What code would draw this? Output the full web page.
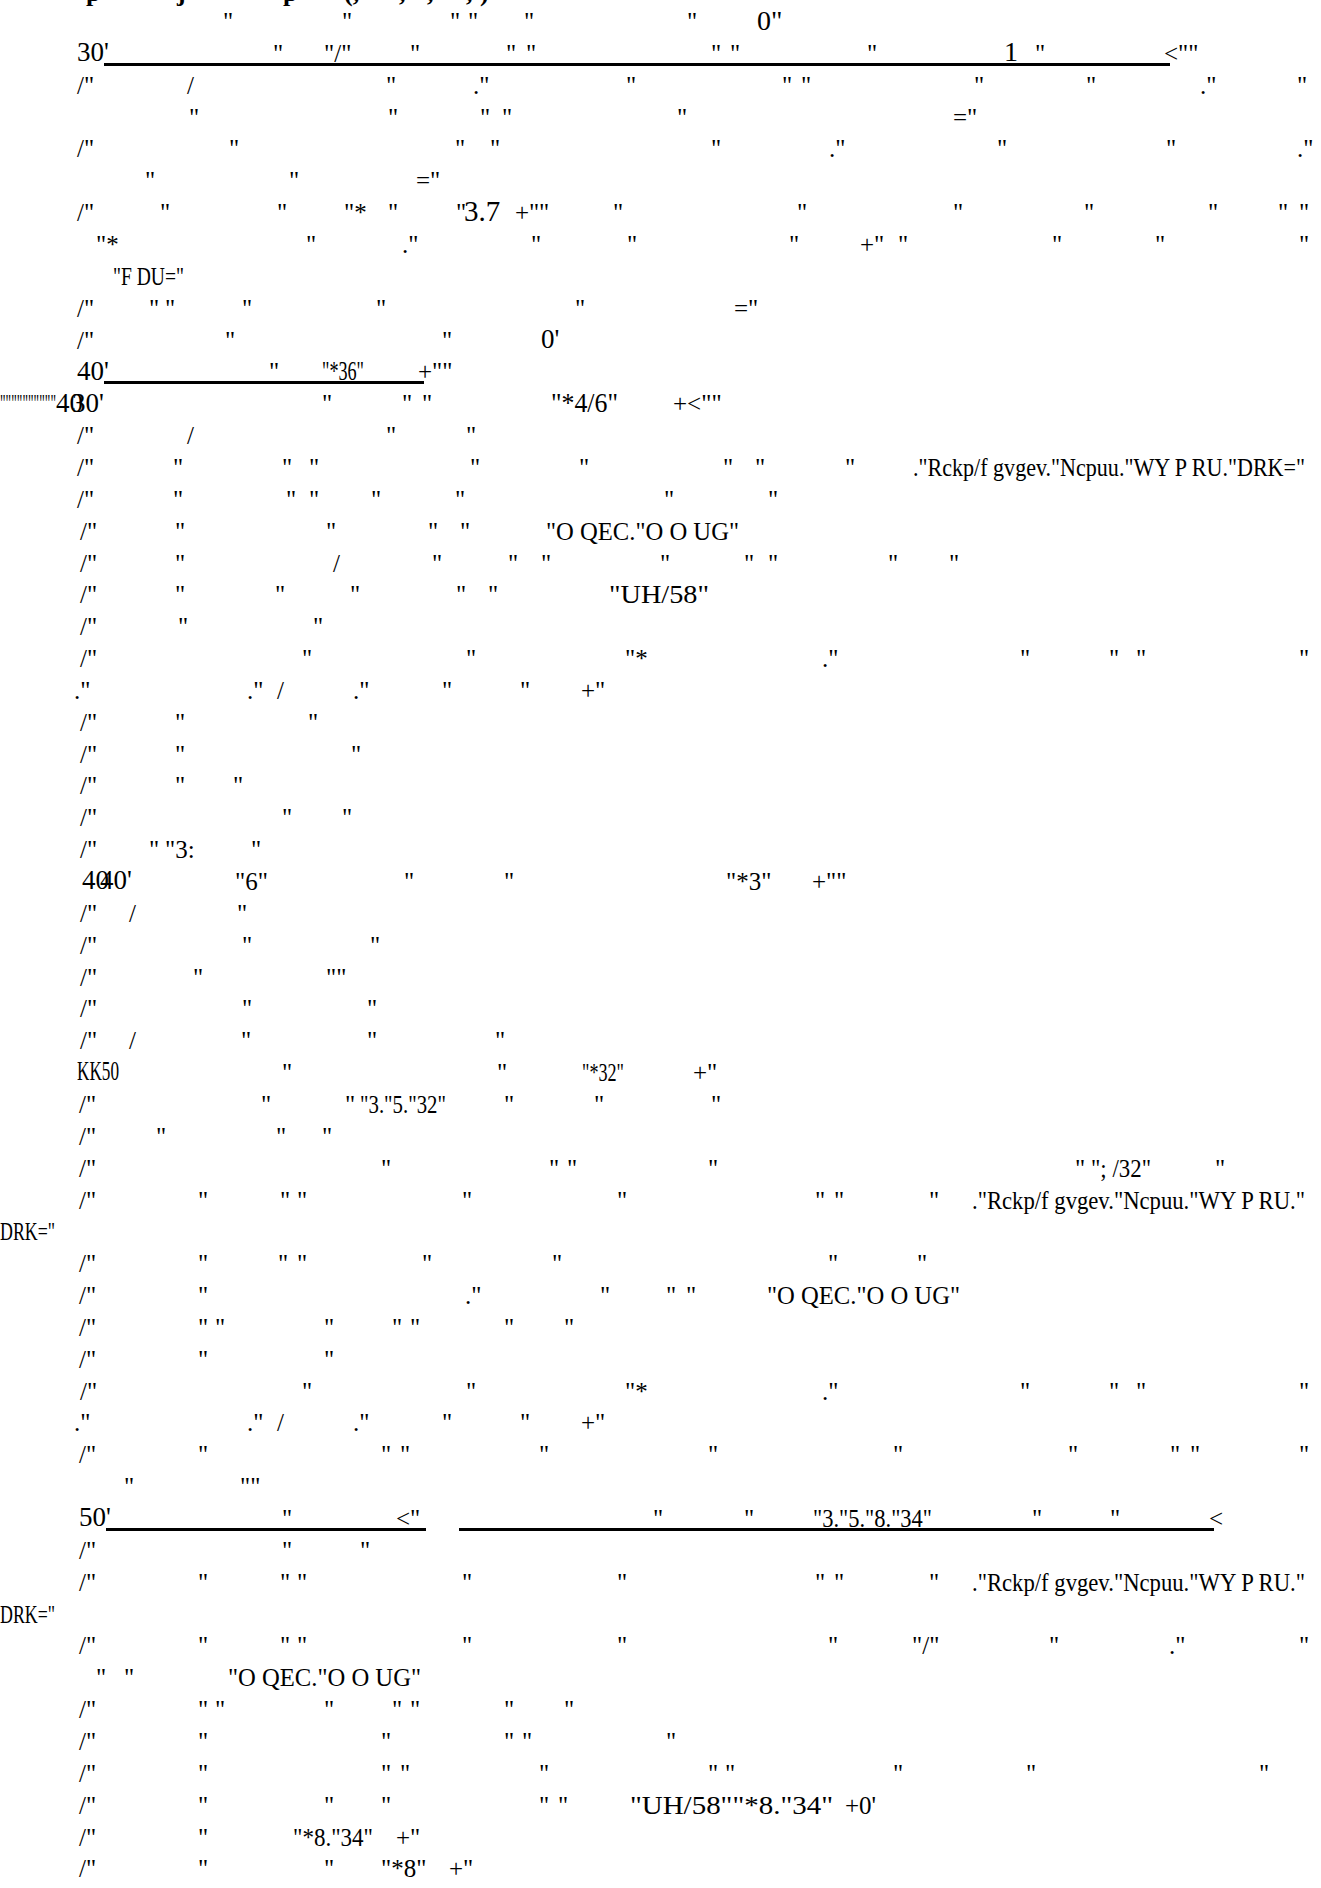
<!DOCTYPE html>
<html>
<head>
<meta charset="utf-8">
<script src="https://cdn.jsdelivr.net/npm/chart.js@4.4.1/dist/chart.umd.min.js"></script>
<style>
  html, body { margin: 0; padding: 0; background: #ffffff; }
  body { width: 1321px; height: 1888px; position: relative; overflow: hidden;
         font-family: "Liberation Serif", "Times New Roman", serif; color: #000; }
  .t { position: absolute; white-space: pre; line-height: 1; transform-origin: 0 0; }
  .b { font-weight: bold; }
  .rule { position: absolute; height: 3px; background: #000; }
</style>
</head>
<body>
<div id="page"></div>
<script>
// Text content of the page, one array per printed line: [x, text, options]
const Q = '"';
const headerLine = [[86,'p'],[177,'j'],[283,'p'],[344,'(,'],[399,','],[427,','],[466,','],[480,')']];
const block1 = [
  [[223,Q],[342,Q],[450,Q],[468,Q],[524,Q],[687,Q],[757,'0"',{s:28}]],
  [[77,"30'",{s:27}],[273,Q],[324,'"/"'],[410,Q],[506,Q],[526,Q],[711,Q],[730,Q],[867,Q],[1004,'1',{s:28}],[1035,Q],[1164,'<""']],
  [[77,'/"'],[187,'/'],[386,Q],[473,'."'],[626,Q],[782,Q],[801,Q],[974,Q],[1086,Q],[1200,'."'],[1297,Q]],
  [[189,Q],[388,Q],[480,Q],[502,Q],[677,Q],[953,'="']],
  [[77,'/"'],[229,Q],[455,Q],[490,Q],[711,Q],[829,'."'],[997,Q],[1166,Q],[1297,'."']],
  [[145,Q],[289,Q],[416,'="']],
  [[77,'/"'],[160,Q],[277,Q],[344,'"*'],[388,Q],[456,Q],[464,'3.7',{s:29}],[515,'+"'],[539,Q],[613,Q],[797,Q],[953,Q],[1084,Q],[1208,Q],[1278,Q],[1299,Q]],
  [[96,'"*'],[306,Q],[402,'."'],[531,Q],[627,Q],[789,Q],[860,'+"'],[898,Q],[1052,Q],[1155,Q],[1299,Q]],
  [[113,'"F DU="',{w:71}]],
  [[77,'/"'],[149,Q],[165,Q],[242,Q],[376,Q],[575,Q],[734,'="']],
  [[77,'/"'],[225,Q],[442,Q],[541,"0'",{s:27}]],
  [[77,"40'",{s:27}],[269,Q],[322,'"*36"',{w:42,s:27}],[418,'+""']],
  [[0,'""""""""""',{w:56}],[56,'40',{s:27}],[72,"30'",{s:27}],[322,Q],[402,Q],[422,Q],[551,'"*4/6"',{w:67,s:27}],[673,'+<""']],
  [[77,'/"'],[187,'/'],[386,Q],[466,Q]],
  [[77,'/"'],[173,Q],[282,Q],[309,Q],[470,Q],[579,Q],[723,Q],[755,Q],[845,Q],[913,'."Rckp/f gvgev."Ncpuu."WY P RU."DRK="',{w:392}]],
  [[77,'/"'],[173,Q],[286,Q],[309,Q],[371,Q],[455,Q],[664,Q],[768,Q]],
  [[80,'/"'],[175,Q],[326,Q],[428,Q],[460,Q],[546,'"O QEC."O O UG"',{w:193}]],
  [[80,'/"'],[175,Q],[333,'/'],[432,Q],[508,Q],[541,Q],[660,Q],[744,Q],[768,Q],[888,Q],[949,Q]],
  [[80,'/"'],[175,Q],[275,Q],[350,Q],[456,Q],[488,Q],[609,'"UH/58"',{w:100}]],
  [[80,'/"'],[178,Q],[313,Q]],
  [[80,'/"'],[302,Q],[466,Q],[625,'"*'],[822,'."'],[1020,Q],[1109,Q],[1136,Q],[1299,Q]],
  [[74,'."'],[247,'."'],[277,'/'],[353,'."'],[442,Q],[520,Q],[581,'+"']],
  [[80,'/"'],[175,Q],[308,Q]],
  [[80,'/"'],[175,Q],[351,Q]],
  [[80,'/"'],[175,Q],[233,Q]],
  [[80,'/"'],[282,Q],[342,Q]],
  [[80,'/"'],[149,Q],[165,'"3:'],[251,Q]],
  [[82,'40',{s:27}],[100,"40'",{s:27}],[235,'"6"'],[404,Q],[504,Q],[726,'"*3"'],[812,'+""']],
  [[80,'/"'],[129,'/'],[237,Q]],
  [[80,'/"'],[242,Q],[370,Q]],
  [[80,'/"'],[193,Q],[326,'""']],
  [[80,'/"'],[242,Q],[367,Q]],
  [[80,'/"'],[129,'/'],[241,Q],[367,Q],[495,Q]]
];
const block2 = [
  [[77,'KK50',{s:27,w:42}],[282,Q],[497,Q],[582,'"*32"',{w:42}],[693,'+"']],
  [[79,'/"'],[261,Q],[345,Q],[360,'"3."5."32"',{w:86}],[504,Q],[594,Q],[711,Q]],
  [[79,'/"'],[156,Q],[276,Q],[322,Q]],
  [[79,'/"'],[381,Q],[549,Q],[567,Q],[708,Q],[1075,Q],[1091,'"; /32"',{w:60}],[1215,Q]],
  [[79,'/"'],[198,Q],[280,Q],[297,Q],[462,Q],[617,Q],[815,Q],[834,Q],[929,Q],[972,'."Rckp/f gvgev."Ncpuu."WY P RU."',{w:333}]],
  [[0,'DRK="',{w:55}]],
  [[79,'/"'],[198,Q],[278,Q],[297,Q],[422,Q],[552,Q],[828,Q],[917,Q]],
  [[79,'/"'],[198,Q],[465,'."'],[600,Q],[666,Q],[686,Q],[767,'"O QEC."O O UG"',{w:193}]],
  [[79,'/"'],[198,Q],[215,Q],[324,Q],[392,Q],[410,Q],[504,Q],[564,Q]],
  [[79,'/"'],[198,Q],[324,Q]],
  [[80,'/"'],[302,Q],[466,Q],[625,'"*'],[822,'."'],[1020,Q],[1109,Q],[1136,Q],[1299,Q]],
  [[74,'."'],[247,'."'],[277,'/'],[353,'."'],[442,Q],[520,Q],[581,'+"']],
  [[79,'/"'],[198,Q],[381,Q],[400,Q],[539,Q],[708,Q],[893,Q],[1068,Q],[1170,Q],[1190,Q],[1299,Q]],
  [[124,Q],[240,'""']]
];
const block3 = [
  [[79,"50'",{s:27}],[282,Q],[396,'<"'],[653,Q],[744,Q],[813,'"3."5."8."34"',{w:119}],[1032,Q],[1110,Q],[1209,'<']],
  [[79,'/"'],[282,Q],[360,Q]],
  [[79,'/"'],[198,Q],[280,Q],[297,Q],[462,Q],[617,Q],[815,Q],[834,Q],[929,Q],[972,'."Rckp/f gvgev."Ncpuu."WY P RU."',{w:333}]],
  [[0,'DRK="',{w:55}]],
  [[79,'/"'],[198,Q],[280,Q],[297,Q],[462,Q],[617,Q],[828,Q],[912,'"/"'],[1049,Q],[1169,'."'],[1299,Q]],
  [[96,Q],[124,Q],[228,'"O QEC."O O UG"',{w:193}]],
  [[79,'/"'],[198,Q],[215,Q],[324,Q],[392,Q],[410,Q],[504,Q],[564,Q]],
  [[79,'/"'],[198,Q],[381,Q],[504,Q],[522,Q],[666,Q]],
  [[79,'/"'],[198,Q],[381,Q],[400,Q],[539,Q],[708,Q],[725,Q],[893,Q],[1026,Q],[1259,Q]],
  [[79,'/"'],[198,Q],[324,Q],[381,Q],[539,Q],[558,Q],[630,'"UH/58""*8."34"',{w:203}],[845,"+0'"]],
  [[79,'/"'],[198,Q],[293,'"*8."34"',{w:80}],[396,'+"']],
  [[79,'/"'],[198,Q],[324,Q],[381,'"*8"'],[449,'+"']]
];
// Horizontal rules: [line index, x from, x to]
const rules = [[1,104,1170],[11,104,424],[47,106,426],[47,459,1214]];

const FIRST_BASE = 30, STEP = 31.85, BASE_SIZE = 25;
const page = document.getElementById('page');
function put(x, base, text, opt, bold) {
  const s = (opt && opt.s) || (bold ? 26 : BASE_SIZE);
  const el = document.createElement('span');
  el.className = 't' + (bold ? ' b' : '');
  el.style.fontSize = s + 'px';
  el.textContent = text;
  el.style.left = x + 'px';
  el.style.top = (base - 0.8375 * s) + 'px';
  page.appendChild(el);
  if (opt && opt.w) {
    const w = el.getBoundingClientRect().width;
    if (w > 0) el.style.transform = 'scaleX(' + (opt.w / w) + ')';
  }
}
headerLine.forEach(([x, t, o]) => put(x, 2, t, o, true));
const allLines = block1.concat(block2, block3);
allLines.forEach((line, i) => {
  const base = FIRST_BASE + i * STEP;
  line.forEach(([x, t, o]) => put(x, base, t, o, false));
});
rules.forEach(([i, x0, x1]) => {
  const r = document.createElement('div');
  r.className = 'rule';
  r.style.left = x0 + 'px';
  r.style.width = (x1 - x0) + 'px';
  r.style.top = (FIRST_BASE + i * STEP + 1) + 'px';
  page.appendChild(r);
});
</script>
</body>
</html>
